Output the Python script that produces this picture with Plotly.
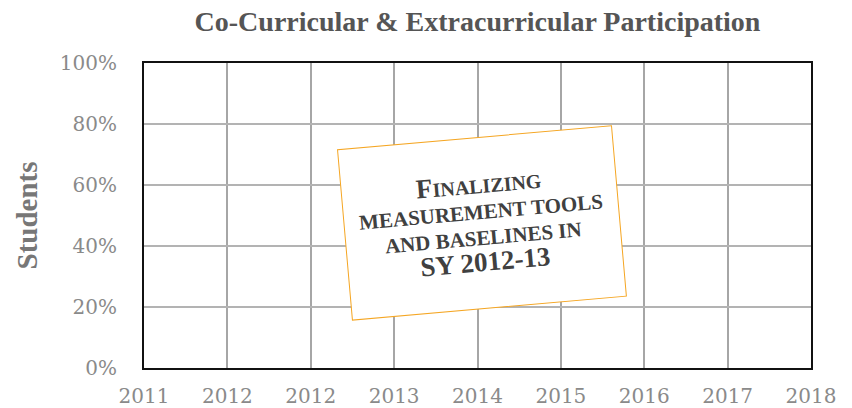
import plotly.graph_objects as go

# ---- data ----
year_labels = ["2011", "2012", "2012", "2013", "2014", "2015", "2016", "2017", "2018"]
y_tick_values = [0, 20, 40, 60, 80, 100]
y_tick_labels = ["0%", "20%", "40%", "60%", "80%", "100%"]
participation = [None] * len(year_labels)  # no values reported yet
title_text = "Co-Curricular &amp; Extracurricular Participation"
y_title = "Students"
note_text = (
    "<span style='font-size:27px'>F</span><span style='font-size:20px'>INALIZING</span><br>"
    "<span style='font-size:21px'>MEASUREMENT TOOLS</span><br>"
    "<span style='font-size:21px'>AND BASELINES IN</span><br>"
    "<span style='font-size:27px'>SY 2012-13</span>"
)

x_pos = list(range(len(year_labels)))

W, H = 852, 408

fig = go.Figure()
fig.add_trace(go.Scatter(x=x_pos, y=participation, mode="lines",
                         showlegend=False, hoverinfo="skip"))

tick_font = dict(family="DejaVu Serif", size=20, color="#8a8a8a")

fig.update_layout(
    width=W, height=H,
    margin=dict(l=144, r=41, t=63, b=40, autoexpand=False),
    paper_bgcolor="white", plot_bgcolor="white",
    title=dict(text=title_text, x=(144 + 811) / 2 / W, xanchor="center",
               y=1 - 21 / H, yanchor="middle",
               font=dict(family="Liberation Serif", size=28, color="#555555", weight="bold")),
    xaxis=dict(range=[0, len(year_labels) - 1], tickvals=x_pos, ticktext=year_labels,
               showgrid=True, gridcolor="#a6a6a6", gridwidth=2,
               showline=True, linecolor="#111111", linewidth=2, mirror=True,
               zeroline=False, ticks="", tickfont=tick_font, ticklabelstandoff=9,
               automargin=False),
    yaxis=dict(range=[0, 100], tickvals=y_tick_values, ticktext=y_tick_labels,
               showgrid=True, gridcolor="#b3b3b3", gridwidth=2,
               showline=True, linecolor="#111111", linewidth=2, mirror=True,
               zeroline=False, ticks="", tickfont=tick_font, ticklabelstandoff=21,
               automargin=False,
               title=dict(text=y_title, standoff=14,
                          font=dict(family="Liberation Serif", size=29, color="#777777", weight="bold"))),
    annotations=[dict(
        text=note_text, xref="x", yref="y", x=4.05, y=47.4,
        xanchor="center", yanchor="middle", showarrow=False,
        textangle=-5, width=268, height=164, borderpad=3, borderwidth=1,
        bordercolor="#f5a623", bgcolor="white", align="center",
        font=dict(family="Liberation Serif", size=20, color="#404040", weight="bold"),
    )],
)

# remove the browser's default 8px body margin so the figure fills the window
fig.write_html("out.html", config={"displayModeBar": False},
               post_script="document.body.style.margin='0px';")
